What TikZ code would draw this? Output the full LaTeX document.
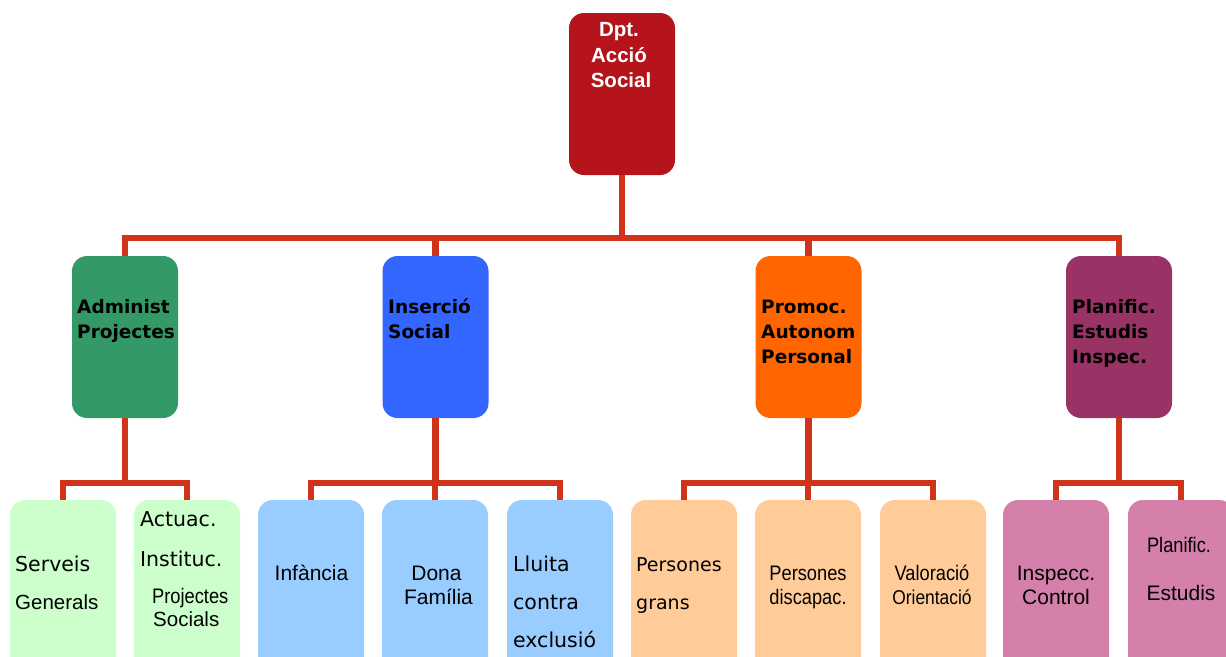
\documentclass[tikz,border=0pt]{standalone}
\usepackage{fontspec}
\setmainfont{DejaVu Sans}
\newfontfamily\dvs{DejaVu Sans}
\newfontfamily\lib{Liberation Sans}
\newfontfamily\libn[FakeStretch=0.87]{Liberation Sans}
\definecolor{topred}{RGB}{181,21,26}
\definecolor{connred}{RGB}{208,50,26}
\definecolor{cgreen}{RGB}{51,153,102}
\definecolor{cblue}{RGB}{51,102,255}
\definecolor{corange}{RGB}{255,102,0}
\definecolor{cpurple}{RGB}{153,51,102}
\definecolor{lgreen}{RGB}{204,255,204}
\definecolor{lblue}{RGB}{153,204,255}
\definecolor{lpeach}{RGB}{255,204,153}
\definecolor{lpink}{RGB}{213,128,170}
\tikzset{
  box/.style={rectangle, rounded corners=15pt, minimum width=106pt, minimum height=162pt, inner sep=0pt, draw=none},
  kid/.style={rectangle, rounded corners=15pt, minimum width=106pt, minimum height=200pt, inner sep=0pt, draw=none},
  conn/.style={draw=connred, line width=6.5pt},
  toptxt/.style={anchor=base, inner sep=0pt, text=white, font=\lib\bfseries\fontsize{20.5}{25}\selectfont},
  midtxt/.style={anchor=base west, inner sep=0pt, text=black, font=\dvs\bfseries\fontsize{18.5}{25}\selectfont},
  vw/.style={anchor=base west, inner sep=0pt, font=\dvs\fontsize{20.5}{25}\selectfont},
  aw/.style={anchor=base west, inner sep=0pt, font=\lib\fontsize{20.5}{25}\selectfont},
  ac/.style={anchor=base, inner sep=0pt, font=\lib\fontsize{21}{25}\selectfont},
  nc/.style={anchor=base, inner sep=0pt, font=\libn\fontsize{21}{25}\selectfont},
}
\begin{document}
\begin{tikzpicture}[x=1pt,y=-1pt]
\useasboundingbox (0,0) rectangle (1226,656);
\clip (0,0) rectangle (1226,656);
% top
\node[box, fill=topred] (top) at (622,94) {};
% level 2
\node[box, fill=cgreen]  (adm) at (125,337) {};
\node[box, fill=cblue]   (ins) at (435.5,337) {};
\node[box, fill=corange] (pro) at (808.5,337) {};
\node[box, fill=cpurple] (pla) at (1119,337) {};
% level 3
\node[kid, fill=lgreen] (c1) at (63,600) {};
\node[kid, fill=lgreen] (c2) at (187,600) {};
\node[kid, fill=lblue]  (c3) at (311,600) {};
\node[kid, fill=lblue]  (c4) at (435,600) {};
\node[kid, fill=lblue]  (c5) at (560,600) {};
\node[kid, fill=lpeach] (c6) at (684,600) {};
\node[kid, fill=lpeach] (c7) at (808,600) {};
\node[kid, fill=lpeach] (c8) at (933,600) {};
\node[kid, fill=lpink]  (c9) at (1056,600) {};
\node[kid, fill=lpink]  (c10) at (1181,600) {};
% connectors
\coordinate (bus) at (622,238);
\coordinate (gb) at (0,483);
\draw[conn] (top.south) -- (bus);
\draw[conn] (adm.north) |- (pla.north |- bus) -- (pla.north);
\draw[conn] (ins.north) -- (ins.north |- bus);
\draw[conn] (pro.north) -- (pro.north |- bus);
\draw[conn] (adm.south) -- (adm.south |- gb);
\draw[conn] (c1.north) |- (c2.north |- gb) -- (c2.north);
\draw[conn] (ins.south) -- (ins.south |- gb);
\draw[conn] (c3.north) |- (c5.north |- gb) -- (c5.north);
\draw[conn] (c4.north) -- (c4.north |- gb);
\draw[conn] (pro.south) -- (pro.south |- gb);
\draw[conn] (c6.north) |- (c8.north |- gb) -- (c8.north);
\draw[conn] (c7.north) -- (c7.north |- gb);
\draw[conn] (pla.south) -- (pla.south |- gb);
\draw[conn] (c9.north) |- (c10.north |- gb) -- (c10.north);
% top texts
\node[toptxt] (ta) at (619,36) {Dpt.};
\node[toptxt] (tb) at (619,62) {Acció};
\node[toptxt] (tc) at (621,87) {Social};
% level 2 texts
\node[midtxt] (a1) at (77,313) {Administ};
\node[midtxt] (a2) at (77,338) {Projectes};
\node[midtxt] (i1) at (388,313) {Inserció};
\node[midtxt] (i2) at (388,338) {Social};
\node[midtxt] (p1) at (761,313) {Promoc.};
\node[midtxt] (p2) at (761,338) {Autonom};
\node[midtxt] (p3) at (761,363) {Personal};
\node[midtxt] (q1) at (1072,313) {Planific.};
\node[midtxt] (q2) at (1072,338) {Estudis};
\node[midtxt] (q3) at (1072,363) {Inspec.};
% level 3 texts
\node[vw] (s1) at (15,571) {Serveis};
\node[aw] (s2) at (15,609) {Generals};
\node[vw] (u1) at (140,526) {Actuac.};
\node[vw] (u2) at (140,566) {Instituc.};
\node[aw, font=\libn\fontsize{21}{25}\selectfont] (u3) at (152,603) {Projectes};
\node[aw] (u4) at (153,626) {Socials};
\node[ac] (f1) at (311.5,580) {Infància};
\node[ac] (d1) at (436.5,580) {Dona};
\node[ac] (d2) at (438.5,604) {Família};
\node[vw] (l1) at (513,571) {Lluita};
\node[vw] (l2) at (513,609) {contra};
\node[vw] (l3) at (513,647) {exclusió};
\node[vw, font=\dvs\fontsize{19}{25}\selectfont] (g1) at (636,571) {Persones};
\node[vw, font=\dvs\fontsize{19}{25}\selectfont] (g2) at (636,609) {grans};
\node[nc] (h1) at (808,580) {Persones};
\node[nc] (h2) at (808,604) {discapac.};
\node[nc] (v1) at (932,580) {Valoració};
\node[nc, font=\libn\fontsize{20}{25}\selectfont] (v2) at (932,604) {Orientació};
\node[ac] (n1) at (1056,580) {Inspecc.};
\node[ac] (n2) at (1056,604) {Control};
\node[nc] (e1) at (1179,552) {Planific.};
\node[ac] (e2) at (1181,600) {Estudis};
\end{tikzpicture}
\end{document}
